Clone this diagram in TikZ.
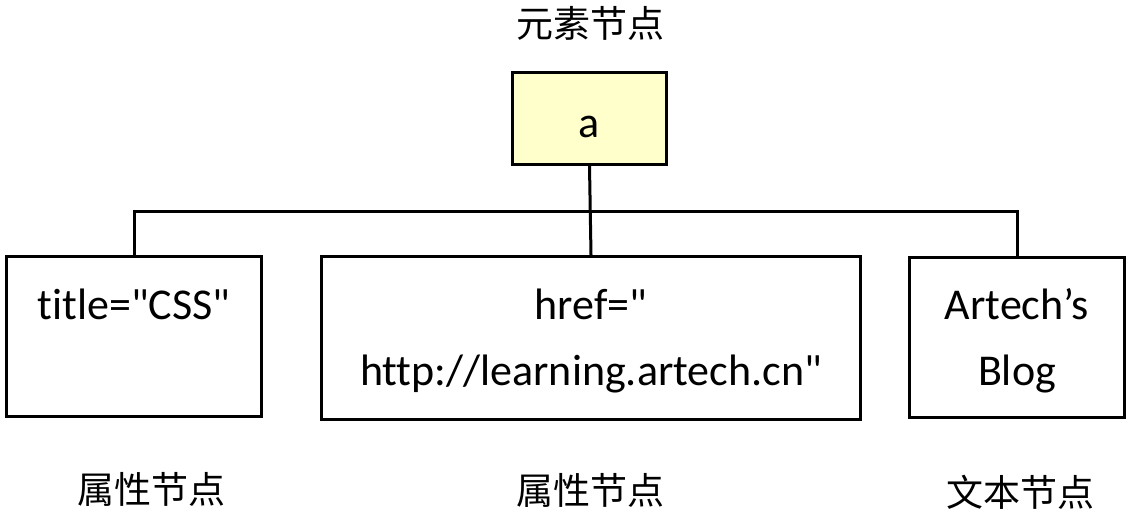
\documentclass[tikz,border=0pt]{standalone}
\usepackage{fontspec}
\setmainfont{Carlito}[Ligatures={TeXOff,NoCommon}]
\newfontfamily\cjk{Noto Sans CJK SC}
\definecolor{boxyellow}{RGB}{255,255,204}
\begin{document}
\begin{tikzpicture}[x=1pt,y=-1pt,
  box/.style={draw=black, line width=3pt, rectangle, inner sep=0pt},
  txt/.style={anchor=base, inner sep=0pt, font=\fontsize{44}{66}\selectfont},
  cjklab/.style={anchor=center, inner sep=0pt, font=\cjk\fontsize{37}{40}\selectfont},
  conn/.style={draw=black, line width=3pt}]
\useasboundingbox (0,0) rectangle (1127,512);
% boxes
\node[box, fill=boxyellow, minimum width=154pt, minimum height=92pt] (a) at (589.5,118.5) {};
\node[box, minimum width=255pt, minimum height=160pt] (b1) at (134,336.5) {};
\node[box, minimum width=539pt, minimum height=163pt] (b2) at (591,338) {};
\node[box, minimum width=215pt, minimum height=160pt] (b3) at (1017,337.5) {};
% texts
\node[txt] (ta) at (589.5,137) {a};
\node[txt] (t1) at (134,319) {title="CSS"};
\node[txt] (t2a) at (591,319) {href="};
\node[txt] (t2b) at (591,385) {http://learning.artech.cn"};
\node[txt] (t3a) at (1017,319) {Artech’s};
\node[txt] (t3b) at (1017,385) {Blog};
% labels
\node[cjklab] (l0) at (590,23) {元素节点};
\node[cjklab] (l1) at (151,489) {属性节点};
\node[cjklab] (l2) at (590,490) {属性节点};
\node[cjklab] (l3) at (1020,492) {文本节点};
% connectors
\coordinate (j) at (591,211);
\draw[conn] (a.south) -- (b2.north);
\draw[conn] (b1.north) |- (j) -| (b3.north);
\end{tikzpicture}
\end{document}
